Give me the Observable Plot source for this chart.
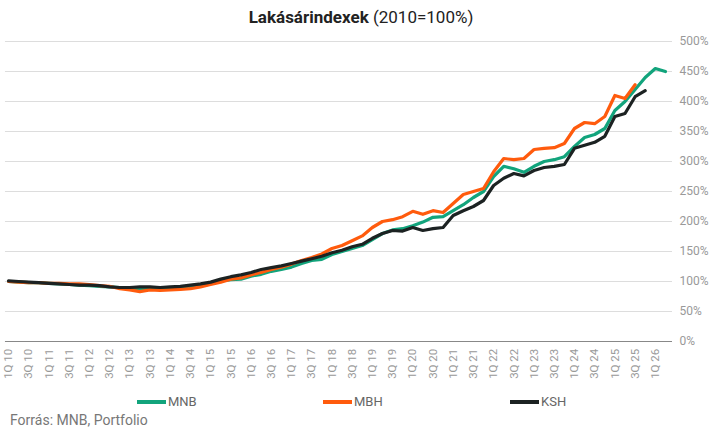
<!DOCTYPE html>
<html><head><meta charset="utf-8">
<script src="https://cdn.jsdelivr.net/npm/d3@7"></script>
<script src="https://cdn.jsdelivr.net/npm/@observablehq/plot@0.6"></script>
<style>
body{margin:0;background:#fff;font-family:Roboto,sans-serif;width:722px;}
#title{text-align:center;font-size:17px;color:#222;height:30px;line-height:34px;}
#legend{position:relative;height:22px;font-size:13px;color:#666;}
.li{position:absolute;top:2px;display:flex;align-items:center;}
.sw{width:29px;height:4px;margin-right:2px;}
#cap{font-size:14px;color:#777;padding-left:10px;margin-top:-2px;}
</style></head><body>
<div id="title"><b>Lakásárindexek</b> (2010=100%)</div>
<div id="chart"></div>
<div id="legend"></div>
<div id="cap">Forrás: MNB, Portfolio</div>
<script>
const years = d3.range(10,27);
const quarters = years.flatMap(y=>[1,2,3,4].map(q=>`${q}Q ${y}`));
const mnb = [100,99,98,98, 97,96,95,94, 93,92,91,90, 89,88,87,87, 87,88,90,93, 97,101,103,104, 109,112,117,120, 124,130,135,137, 145,150,155,160, 170,180,186,188, 193,199,207,208, 218,228,240,250, 275,292,288,282, 292,300,303,308, 325,340,345,355, 385,400,420,440, 455,450];
const mbh = [100,99,98,98, 97,97,96,96, 95,93,92,88, 86,83,86,85, 86,87,88,91, 95,99,104,106, 111,115,120,124, 129,135,140,146, 155,160,168,176, 190,200,203,208, 217,212,218,215, 230,245,250,255, 283,305,303,305, 320,322,323,330, 355,365,363,375, 410,405,428];
const ksh = [101,100,99,98, 97,96,95,94, 94,93,91,90, 90,91,91,90, 91,92,94,96, 99,104,108,111, 115,120,123,126, 130,134,138,142, 148,152,158,162, 172,180,185,184, 190,185,188,190, 210,218,225,235, 260,272,280,276, 285,290,292,295, 322,327,332,342, 375,380,408,418];
const series = [["MNB",mnb,"#12a47c"],["MBH",mbh,"#ff5b0d"],["KSH",ksh,"#1c2222"]];
const data = series.flatMap(([name,vals])=>vals.map((v,i)=>({name,i,v})));
const yTicks = d3.range(0,501,50);
const xTicks = d3.range(0,65,2);
const chart = Plot.plot({
  width:722,height:362,marginTop:11,marginBottom:51,marginLeft:8,marginRight:50,
  style:{fontFamily:"Roboto,sans-serif",fontSize:"12px",color:"#999"},
  x:{domain:[0,65.7],axis:null},
  y:{domain:[0,500],axis:null},
  color:{domain:series.map(s=>s[0]),range:series.map(s=>s[2])},
  marks:[
    Plot.ruleY(yTicks.filter(d=>d>0),{stroke:"#ddd",x1:-0.3,x2:65.7}),
    Plot.ruleY([0],{stroke:"#888",x1:-0.3,x2:65.7}),
    Plot.text(yTicks,{x:65.7,y:d=>d,text:d=>d+"%",textAnchor:"start",dx:7,fill:"#999",fontSize:12}),
    Plot.text(xTicks,{x:d=>d,y:-12,text:d=>quarters[d],rotate:-90,textAnchor:"end",fill:"#999",fontSize:11.5}),
    Plot.line(data,{x:"i",y:"v",z:"name",stroke:"name",strokeWidth:3.2})
  ]
});
document.getElementById("chart").appendChild(chart);
const lg=document.getElementById("legend");
[[137,"MNB"],[323,"MBH"],[510,"KSH"]].forEach(([x,n],k)=>{
  const d=document.createElement("div");d.className="li";d.style.left=x+"px";
  d.innerHTML=`<span class="sw" style="background:${series[k][2]}"></span>${n}`;lg.appendChild(d);
});
</script></body></html>
